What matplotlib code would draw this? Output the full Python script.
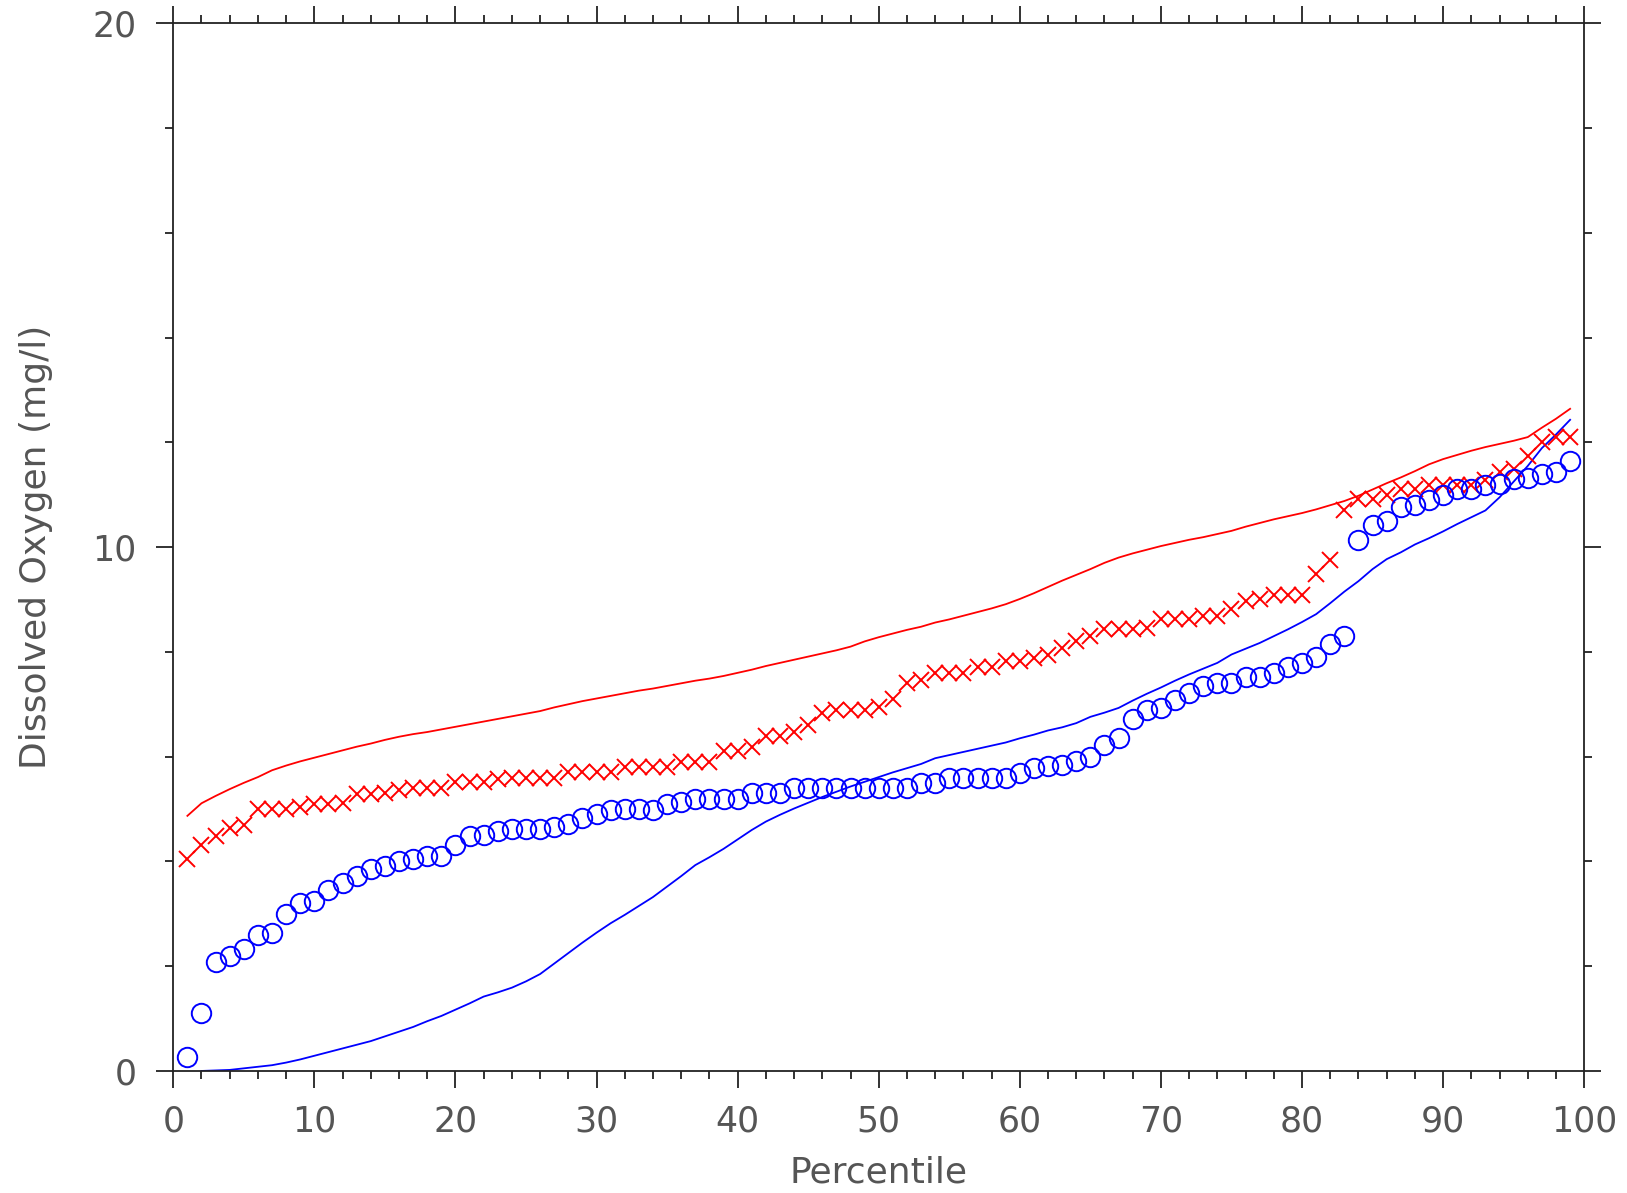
import matplotlib
matplotlib.use("Agg")
import matplotlib.pyplot as plt
from matplotlib.ticker import MultipleLocator

# ---- data ----
pct_markers = list(range(1, 100))

circles_blue = [
    0.27, 1.10, 2.08, 2.20, 2.32, 2.59, 2.63, 2.99, 3.20, 3.24,   # 1-10
    3.46, 3.59, 3.73, 3.85, 3.91, 4.01, 4.05, 4.11, 4.11, 4.32,   # 11-20
    4.49, 4.50, 4.59, 4.61, 4.61, 4.61, 4.66, 4.71, 4.83, 4.91,   # 21-30
    4.99, 5.00, 5.00, 4.99, 5.10, 5.14, 5.20, 5.20, 5.20, 5.20,   # 31-40
    5.30, 5.30, 5.30, 5.41, 5.41, 5.41, 5.41, 5.41, 5.41, 5.41,   # 41-50
    5.41, 5.41, 5.49, 5.49, 5.59, 5.60, 5.60, 5.60, 5.60, 5.69,   # 51-60
    5.78, 5.82, 5.84, 5.92, 5.99, 6.23, 6.35, 6.71, 6.90, 6.93,   # 61-70
    7.08, 7.22, 7.35, 7.41, 7.41, 7.52, 7.52, 7.60, 7.71, 7.78,   # 71-80
    7.90, 8.15, 8.31, 10.14, 10.43, 10.49, 10.76, 10.81, 10.90, 11.00,  # 81-90
    11.10, 11.10, 11.19, 11.21, 11.30, 11.31, 11.40, 11.44, 11.64,      # 91-99
]

crosses_red = [
    4.04, 4.32, 4.48, 4.63, 4.69, 5.00, 5.00, 5.00, 5.04, 5.10,   # 1-10
    5.10, 5.11, 5.29, 5.29, 5.30, 5.37, 5.40, 5.40, 5.40, 5.52,   # 11-20
    5.52, 5.52, 5.58, 5.60, 5.60, 5.60, 5.60, 5.70, 5.70, 5.70,   # 21-30
    5.70, 5.81, 5.81, 5.81, 5.81, 5.90, 5.90, 5.90, 6.11, 6.11,   # 31-40
    6.19, 6.39, 6.39, 6.48, 6.60, 6.83, 6.89, 6.89, 6.89, 6.95,   # 41-50
    7.11, 7.40, 7.47, 7.59, 7.59, 7.60, 7.72, 7.72, 7.82, 7.82,   # 51-60
    7.88, 7.94, 8.08, 8.20, 8.30, 8.43, 8.43, 8.43, 8.46, 8.62,   # 61-70
    8.62, 8.62, 8.69, 8.69, 8.81, 8.97, 9.00, 9.09, 9.09, 9.09,   # 71-80
    9.49, 9.76, 10.71, 10.91, 10.91, 11.00, 11.10, 11.10, 11.19, 11.19,  # 81-90
    11.19, 11.19, 11.28, 11.44, 11.50, 11.73, 12.01, 12.10, 12.10,       # 91-99
]

pct_red_line = list(range(1, 100))
red_line = [
    4.87, 5.11, 5.25, 5.38, 5.50, 5.61, 5.74, 5.83, 5.91, 5.98,   # 1-10
    6.05, 6.12, 6.19, 6.25, 6.32, 6.38, 6.43, 6.47, 6.52, 6.57,   # 11-20
    6.62, 6.67, 6.72, 6.77, 6.82, 6.87, 6.94, 7.00, 7.06, 7.11,   # 21-30
    7.16, 7.21, 7.26, 7.30, 7.35, 7.40, 7.45, 7.49, 7.54, 7.60,   # 31-40
    7.66, 7.73, 7.79, 7.85, 7.91, 7.97, 8.03, 8.10, 8.20, 8.28,   # 41-50
    8.35, 8.42, 8.48, 8.56, 8.62, 8.69, 8.76, 8.83, 8.91, 9.01,   # 51-60
    9.12, 9.24, 9.36, 9.47, 9.58, 9.70, 9.80, 9.88, 9.95, 10.02,  # 61-70
    10.08, 10.14, 10.19, 10.25, 10.31, 10.39, 10.46, 10.53, 10.59, 10.65,  # 71-80
    10.72, 10.80, 10.88, 10.98, 11.10, 11.22, 11.33, 11.45, 11.58, 11.68,  # 81-90
    11.76, 11.84, 11.91, 11.97, 12.03, 12.10, 12.28, 12.45, 12.64,        # 91-99
]

pct_blue_line = list(range(2, 100))
blue_line = [
    0.00, 0.01, 0.02, 0.05, 0.08, 0.11, 0.16, 0.22, 0.29,         # 2-10
    0.36, 0.43, 0.50, 0.57, 0.66, 0.75, 0.84, 0.95, 1.05, 1.17,   # 11-20
    1.29, 1.42, 1.50, 1.59, 1.71, 1.85, 2.05, 2.25, 2.45, 2.64,   # 21-30
    2.82, 2.98, 3.15, 3.32, 3.52, 3.72, 3.93, 4.08, 4.24, 4.42,   # 31-40
    4.60, 4.76, 4.89, 5.01, 5.12, 5.23, 5.33, 5.43, 5.52, 5.61,   # 41-50
    5.70, 5.78, 5.86, 5.97, 6.03, 6.09, 6.15, 6.21, 6.27, 6.35,   # 51-60
    6.42, 6.50, 6.56, 6.64, 6.76, 6.84, 6.93, 7.07, 7.20, 7.32,   # 61-70
    7.45, 7.57, 7.68, 7.79, 7.95, 8.06, 8.17, 8.30, 8.43, 8.57,   # 71-80
    8.72, 8.93, 9.15, 9.35, 9.58, 9.77, 9.90, 10.05, 10.17, 10.30,  # 81-90
    10.44, 10.57, 10.70, 10.95, 11.25, 11.55, 11.89, 12.15, 12.43,  # 91-99
]

x_ticks = [0, 10, 20, 30, 40, 50, 60, 70, 80, 90, 100]
y_ticks = [0, 10, 20]
x_label = "Percentile"
y_label = "Dissolved Oxygen (mg/l)"

# ---- figure ----
plt.rcParams['font.family'] = ['DejaVu Sans']
fig = plt.figure(figsize=(16.27, 11.93), dpi=100)
ax = fig.add_axes([0.1065, 0.1023, 0.8672, 0.8782])

ax.plot(pct_red_line, red_line, color='#ff0000', lw=1.3, zorder=2)
ax.plot(pct_blue_line, blue_line, color='#0000ff', lw=1.3, zorder=2)
ax.plot(pct_markers, crosses_red, linestyle='none', marker='x', ms=12,
        mew=1.4, color='#ff0000', zorder=3)
ax.plot(pct_markers, circles_blue, linestyle='none', marker='o', ms=14,
        mew=1.4, mfc='none', mec='#0000ff', zorder=3)

ax.set_xlim(0, 100)
ax.set_ylim(0, 20)
ax.set_xticks(x_ticks)
ax.set_yticks(y_ticks)
ax.xaxis.set_minor_locator(MultipleLocator(2))
ax.yaxis.set_minor_locator(MultipleLocator(2))

txt_color = '#555555'
ax.tick_params(which='both', direction='out', top=True, right=True,
               color='#222222', width=1.3, labelcolor=txt_color,
               labelsize=25)
ax.tick_params(which='major', length=12.5)
ax.tick_params(which='minor', length=6)
ax.tick_params(axis='x', which='major', pad=12)
ax.tick_params(axis='y', which='major', pad=14)
ax.tick_params(labeltop=False, labelright=False)

for s in ax.spines.values():
    s.set_color('#222222')
    s.set_linewidth(1.3)

ax.set_xlabel(x_label, fontsize=26, color=txt_color, labelpad=12)
ax.set_ylabel(y_label, fontsize=26, color=txt_color, labelpad=28)

fig.savefig("out.png", dpi=100)
